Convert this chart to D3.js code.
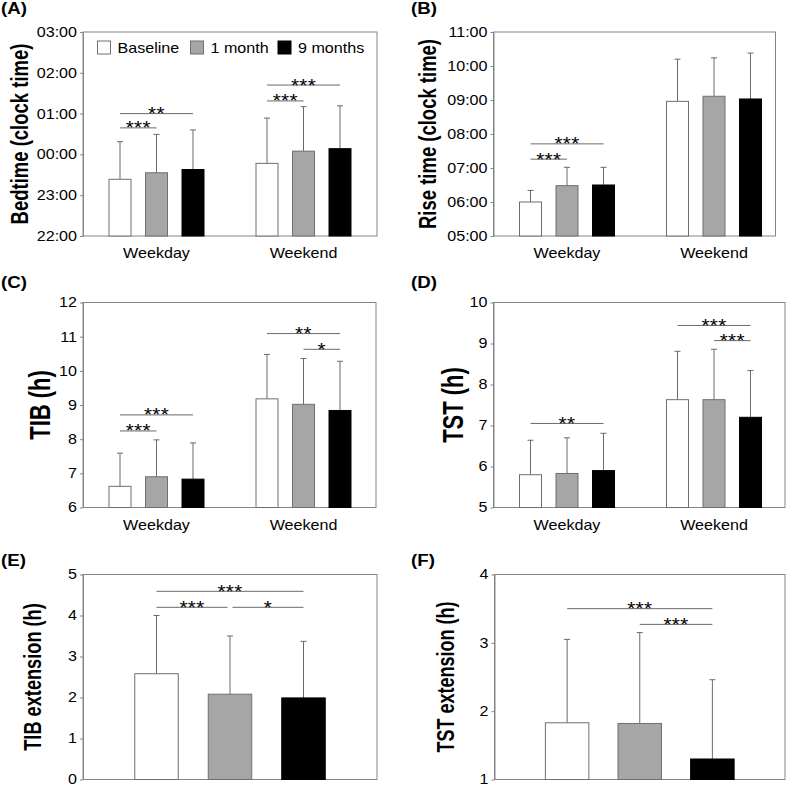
<!DOCTYPE html>
<html>
<head>
<meta charset="utf-8">
<script src="https://cdn.jsdelivr.net/npm/d3@7"></script>
<style>
  body { margin: 0; background: #fff; }
  svg text { font-family: "Liberation Sans", Arial, sans-serif; fill: #000; }
</style>
</head>
<body>
<svg id="chart" width="790" height="788"></svg>
<script>
const groups = ["Weekday", "Weekend"];
const conditions = ["Baseline", "1 month", "9 months"];
const condFill = ["#ffffff", "#a6a6a6", "#000000"];
const condStroke = ["#6f6f6f", "#6f6f6f", "#000000"];

// (A) bedtime, decimal clock hours (values above 24 are after midnight)
const bedtimeMean = [[23.39, 23.55, 23.63], [23.78, 24.08, 24.14]];
const bedtimeSD   = [[0.92, 0.94, 0.97], [1.11, 1.09, 1.05]];
const bedtimeTicks = [22, 23, 24, 25, 26, 27];
const bedtimeSig = [
  {group: "Weekday", a: 0, b: 1, level: 24.65, label: "***"},
  {group: "Weekday", a: 0, b: 2, level: 25.0,  label: "**"},
  {group: "Weekend", a: 0, b: 1, level: 25.31, label: "***"},
  {group: "Weekend", a: 0, b: 2, level: 25.7,  label: "***"}
];

// (B) rise time, decimal clock hours
const riseMean = [[6.0, 6.48, 6.5], [8.96, 9.11, 9.03]];
const riseSD   = [[0.34, 0.54, 0.52], [1.24, 1.13, 1.35]];
const riseTicks = [5, 6, 7, 8, 9, 10, 11];
const riseSig = [
  {group: "Weekday", a: 0, b: 1, level: 7.26, label: "***"},
  {group: "Weekday", a: 0, b: 2, level: 7.71, label: "***"}
];

// (C) time in bed
const tibMean = [[6.62, 6.9, 6.83], [9.18, 9.02, 8.84]];
const tibSD   = [[0.97, 1.08, 1.06], [1.30, 1.34, 1.44]];
const tibTicks = [6, 7, 8, 9, 10, 11, 12];
const tibSig = [
  {group: "Weekday", a: 0, b: 1, level: 8.24,  label: "***"},
  {group: "Weekday", a: 0, b: 2, level: 8.71,  label: "***"},
  {group: "Weekend", a: 1, b: 2, level: 10.63, label: "*"},
  {group: "Weekend", a: 0, b: 2, level: 11.09, label: "**"}
];

// (D) total sleep time
const tstMean = [[5.8, 5.83, 5.9], [7.63, 7.63, 7.2]];
const tstSD   = [[0.84, 0.87, 0.91], [1.18, 1.23, 1.14]];
const tstTicks = [5, 6, 7, 8, 9, 10];
const tstSig = [
  {group: "Weekday", a: 0, b: 2, level: 7.05, label: "**"},
  {group: "Weekend", a: 1, b: 2, level: 9.07, label: "***"},
  {group: "Weekend", a: 0, b: 2, level: 9.44, label: "***"}
];

// (E) TIB extension, (F) TST extension
const tibExtMean = [2.58, 2.08, 1.99];
const tibExtSD   = [1.42, 1.42, 1.38];
const tibExtTicks = [0, 1, 2, 3, 4, 5];
const tibExtSig = [
  {a: 0, b: 1, level: 4.2,  label: "***", inset: [0, 2.5]},
  {a: 1, b: 2, level: 4.2,  label: "*",   inset: [2.5, 0]},
  {a: 0, b: 2, level: 4.59, label: "***"}
];

const tstExtMean = [1.83, 1.82, 1.3];
const tstExtSD   = [1.22, 1.33, 1.16];
const tstExtTicks = [1, 2, 3, 4];
const tstExtSig = [
  {a: 1, b: 2, level: 3.27, label: "***"},
  {a: 0, b: 2, level: 3.5,  label: "***"}
];

const SX = 1.15;          // the source figure is stretched sideways
const FRAME = "#858585";
const WHISKER = "#6a6a6a";
const svg = d3.select("#chart");

const clockFmt = h => String(h % 24).padStart(2, "0") + ":00";

function stretchedText(g, x, y, str, size, opts) {
  opts = opts || {};
  const rot = opts.rotate ? " rotate(-90)" : "";
  return g.append("text")
    .attr("transform", `translate(${x},${y}) scale(${opts.sx || SX},1)${rot}`)
    .attr("text-anchor", opts.anchor || "start")
    .attr("font-size", size)
    .attr("font-weight", opts.bold ? "bold" : "normal")
    .attr("letter-spacing", opts.spacing || 0)
    .text(str);
}

function drawPanel(p) {
  const g = svg.append("g");
  const bottom = p.top + p.height;
  const y = d3.scaleLinear().domain([p.ticks[0], p.ticks[p.ticks.length - 1]]).range([bottom, p.top]);

  // bar positions
  let rows, xc, xGroup;
  if (p.single) {
    const xCond = d3.scalePoint().domain(conditions).range([p.left, p.left + p.width]).padding(1);
    rows = conditions.map((c, ci) => ({c, ci, mean: p.mean[ci], sd: p.sd[ci]}));
    xc = d => xCond(d.c);
  } else {
    xGroup = d3.scalePoint().domain(groups).range([p.left, p.left + p.groupSpan]).padding(0.5);
    const xInner = d3.scalePoint().domain(conditions).range([-36.5, 36.5]);
    rows = groups.flatMap((gn, gi) => conditions.map((c, ci) => ({gn, c, ci, mean: p.mean[gi][ci], sd: p.sd[gi][ci]})));
    xc = d => xGroup(d.gn) + xInner(d.c);
  }

  // frame
  g.append("rect")
    .attr("x", p.left).attr("y", p.top)
    .attr("width", p.width).attr("height", p.height)
    .attr("fill", "none").attr("stroke", FRAME);

  // y axis
  const ax = g.append("g")
    .attr("transform", `translate(${p.left},0)`)
    .call(d3.axisLeft(y).tickValues(p.ticks).tickFormat(p.fmt || (d => d))
      .tickSize(3).tickPadding(3).tickSizeOuter(0));
  ax.select(".domain").attr("stroke", FRAME);
  ax.selectAll(".tick line").attr("stroke", FRAME);
  ax.selectAll(".tick text")
    .attr("font-size", 14)
    .attr("font-family", "Liberation Sans, Arial, sans-serif")
    .attr("fill", "#000")
    .attr("x", -6 / SX)
    .attr("transform", `scale(${SX},1)`);

  // error bars (upper only)
  const eb = g.append("g").attr("stroke", WHISKER).attr("fill", "none");
  eb.selectAll("line.v").data(rows).join("line")
    .attr("x1", xc).attr("x2", xc)
    .attr("y1", d => y(d.mean)).attr("y2", d => y(d.mean + d.sd));
  eb.selectAll("line.cap").data(rows).join("line")
    .attr("x1", d => xc(d) - 3).attr("x2", d => xc(d) + 3)
    .attr("y1", d => y(d.mean + d.sd)).attr("y2", d => y(d.mean + d.sd));

  // bars
  g.selectAll("rect.bar").data(rows).join("rect")
    .attr("class", "bar")
    .attr("x", d => xc(d) - p.barW / 2)
    .attr("y", d => y(d.mean))
    .attr("width", p.barW)
    .attr("height", d => bottom - y(d.mean))
    .attr("fill", d => condFill[d.ci])
    .attr("stroke", d => condStroke[d.ci]);

  // significance brackets
  p.sig.forEach(s => {
    const pick = i => rows.find(r => r.ci === i && (p.single || r.gn === s.group));
    const inset = s.inset || [0, 0];
    const x1 = xc(pick(s.a)) + inset[0], x2 = xc(pick(s.b)) - inset[1];
    const ly = y(s.level);
    g.append("line")
      .attr("x1", x1).attr("x2", x2).attr("y1", ly).attr("y2", ly)
      .attr("stroke", WHISKER);
    stretchedText(g, (x1 + x2) / 2, ly + 6.5, s.label, 18, {anchor: "middle", spacing: 0.3});
  });

  // category labels
  if (!p.single) {
    groups.forEach(gn => stretchedText(g, xGroup(gn), bottom + 22, gn, 14, {anchor: "middle"}));
  }

  // y title and panel tag
  stretchedText(g, p.titleX, p.top + p.height / 2, p.title, p.titleSize, {anchor: "middle", bold: true, rotate: true, sx: 1.3});
  stretchedText(g, p.tagX, p.tagY, p.tag, 17, {bold: true, sx: 1.1});
  return g;
}

const panelA = drawPanel({tag: "(A)", tagX: 1, tagY: 14, title: "Bedtime (clock time)", titleX: 28, titleSize: 18.5,
  left: 83, top: 32, width: 294, height: 204, groupSpan: 294, barW: 22,
  mean: bedtimeMean, sd: bedtimeSD, ticks: bedtimeTicks, fmt: clockFmt, sig: bedtimeSig});

drawPanel({tag: "(B)", tagX: 411, tagY: 14, title: "Rise time (clock time)", titleX: 436, titleSize: 18.5,
  left: 493.5, top: 32, width: 282, height: 204, groupSpan: 294, barW: 22,
  mean: riseMean, sd: riseSD, ticks: riseTicks, fmt: clockFmt, sig: riseSig});

drawPanel({tag: "(C)", tagX: 1, tagY: 288, title: "TIB (h)", titleX: 50, titleSize: 22,
  left: 83, top: 302.5, width: 293, height: 205, groupSpan: 294, barW: 22,
  mean: tibMean, sd: tibSD, ticks: tibTicks, sig: tibSig});

drawPanel({tag: "(D)", tagX: 411, tagY: 288, title: "TST (h)", titleX: 463, titleSize: 22,
  left: 493.5, top: 302.5, width: 291.5, height: 205, groupSpan: 294, barW: 22,
  mean: tstMean, sd: tstSD, ticks: tstTicks, sig: tstSig});

drawPanel({tag: "(E)", tagX: 1, tagY: 566, title: "TIB extension (h)", titleX: 41, titleSize: 18.2,
  left: 83, top: 574.5, width: 294, height: 205, single: true, barW: 43.5,
  mean: tibExtMean, sd: tibExtSD, ticks: tibExtTicks, sig: tibExtSig});

drawPanel({tag: "(F)", tagX: 411, tagY: 566, title: "TST extension (h)", titleX: 454, titleSize: 18,
  left: 494.5, top: 574.5, width: 290.5, height: 205, single: true, barW: 43.5,
  mean: tstExtMean, sd: tstExtSD, ticks: tstExtTicks, sig: tstExtSig});

// legend inside panel A
const legend = panelA.append("g");
const legendX = [97.5, 190.5, 278];
conditions.forEach((c, i) => {
  legend.append("rect")
    .attr("x", legendX[i]).attr("y", 41)
    .attr("width", 13).attr("height", 13)
    .attr("fill", condFill[i]).attr("stroke", condStroke[i]);
  stretchedText(legend, legendX[i] + 20, 53, c, 14);
});
</script>
</body>
</html>
